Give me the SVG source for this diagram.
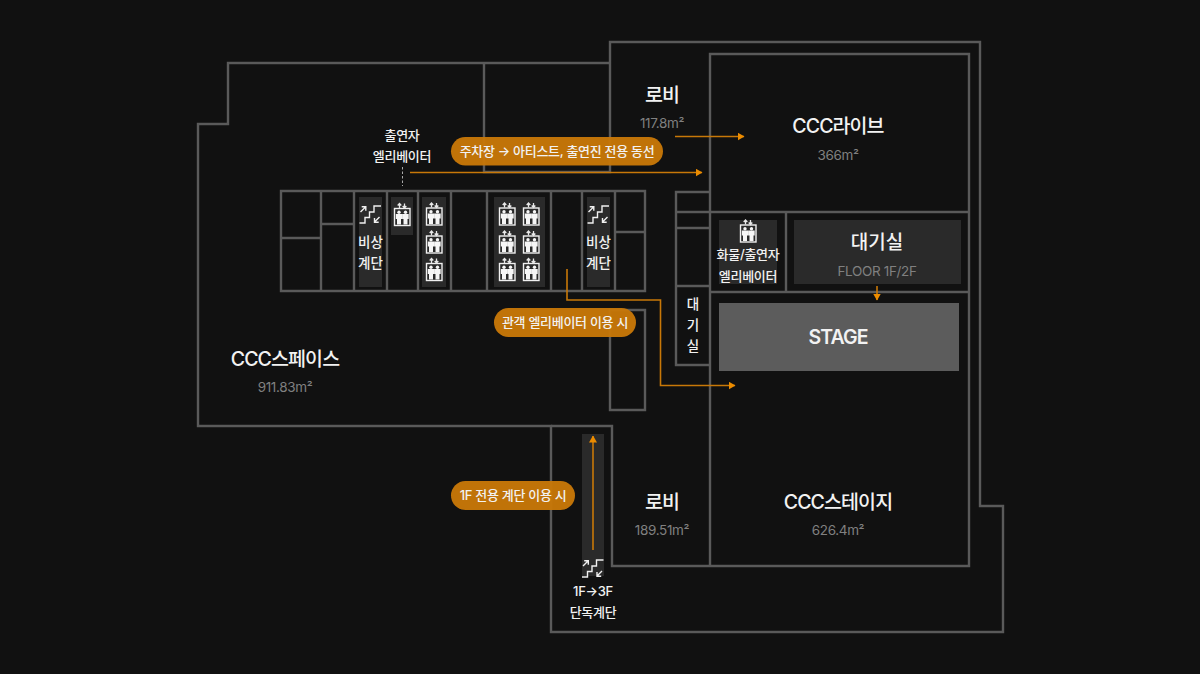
<svg xmlns="http://www.w3.org/2000/svg" xmlns:xlink="http://www.w3.org/1999/xlink" width="1200" height="674" viewBox="0 0 1200 674">
<style>
text{font-family:Inter,"Noto Sans CJK KR",sans-serif;text-anchor:middle;fill:#f2f2f2}
.w{fill:none;stroke:#5a5a5a;stroke-width:2.4}
.p{fill:#2a2a2a}
.h1{font-size:19.500px;font-weight:500;letter-spacing:-.9px}
.h2{font-size:13.5px;fill:#808080;letter-spacing:-.35px}
.m{font-size:13.5px;font-weight:500}
.l{font-size:13px;font-weight:500;letter-spacing:-.3px}
.pl{font-size:13px;font-weight:500;letter-spacing:-.3px}
.pill{fill:#c87808;fill-opacity:.96}
.o{fill:none;stroke:#c87808;stroke-width:1.6}
.ic{fill:none;stroke:#f0f0f0;stroke-width:1.400}
.icf{fill:#f6f6f6}
</style>
<defs>
<marker id="a" markerUnits="userSpaceOnUse" markerWidth="7" markerHeight="8" refX="6.500" refY="4" orient="auto"><path d="M0 0L7 4L0 8Z" fill="#ec8c00"/></marker>
<g id="el">
<rect class="ic" x="-7.500" y="-8.500" width="15.500" height="17"/>
<g class="icf"><circle cx="-3" cy="-4.800" r="1.700"/><circle cx="3.500" cy="-4.800" r="1.700"/><path d="M-6.200 -3H.2V2H-1V7.500H-5V2H-6.200ZM.3 -3H6.700V2H5.500V7.500H1.500V2H.3Z"/></g>
<path d="M-2.500 -9V-13M-4.300 -11.500L-2.500 -13.500L-.7 -11.500M2.500 -13.500V-9.500M.7 -11L2.500 -9L4.300 -11" stroke="#e8e8e8" stroke-width="1.300" fill="none"/>
</g>
<g id="st">
<path class="ic" d="M-11 10H-5.500V4.500H-1V-1H3.500V-7H10.500" stroke-width="1.500"/>
<path d="M-10 -1L-5 -6M-8.800 -6.300H-4.700V-2.300M4 9L9 4M4 5V9.300H8.200" stroke="#f0f0f0" stroke-width="1.400" fill="none"/>
</g>
</defs>
<rect width="1200" height="674" fill="#111"/>
<g id="walls" class="w">
<path d="M610 63H228V124H198V426H551V632H1003V506H980V42H610V172H484V63"/>
<path d="M551 426H612V566H969V54H710V566"/>
<path d="M281 191H645V291H281ZM321 191V291M354 191V291M387 191V291M418 191V291M451 191V291M487 191V291M551 191V291M582 191V291M615 191V291M281 238H321M321 224H354M615 232H645"/>
<path d="M710 192H676V365H710M676 212H969M676 228H710M676 286H710M710 292H969M786 212V292"/>
<path d="M610 310H645V410H610Z"/>
</g>
<g id="panels">
<rect class="p" x="359" y="197" width="23" height="90"/>
<rect class="p" x="391" y="197" width="22" height="38"/>
<rect class="p" x="422" y="197" width="24" height="90"/>
<rect class="p" x="494" y="197" width="51" height="90"/>
<rect class="p" x="587" y="197" width="23" height="90"/>
<rect class="p" x="582" y="434" width="22" height="142"/>
</g>
<g id="node-live"><text class="h1" x="838" y="133">CCC라이브</text><text class="h2" x="838" y="160">366m²</text></g>
<g id="node-lobby-top"><text class="h1" x="662" y="102">로비</text><text class="h2" x="662" y="128">117.8m²</text></g>
<g id="node-space"><text class="h1" x="285" y="366">CCC스페이스</text><text class="h2" x="285" y="392">911.83m²</text></g>
<g id="node-stage-hall"><text class="h1" x="838" y="509">CCC스테이지</text><text class="h2" x="838" y="535">626.4m²</text></g>
<g id="node-lobby-bottom"><text class="h1" x="662" y="509">로비</text><text class="h2" x="662" y="535">189.51m²</text></g>
<g id="node-waiting"><rect class="p" x="794" y="220" width="167" height="64"/><text class="h1" x="877" y="249" style="font-size:19px;letter-spacing:0">대기실</text><text class="h2" x="877" y="276">FLOOR 1F/2F</text></g>
<g id="node-stage"><rect x="719" y="303" width="240" height="68" fill="#5c5c5c"/><text class="h1" x="838" y="344" style="font-weight:600">STAGE</text></g>
<g id="node-cargo-elevator"><rect class="p" x="719" y="220" width="58" height="64"/><use xlink:href="#el" href="#el" x="748" y="233.500"/><text class="l" x="748" y="259">화물/출연자</text><text class="l" x="748" y="281">엘리베이터</text></g>
<g id="node-waiting-small"><text class="m" x="693" y="309">대</text><text class="m" x="693" y="330">기</text><text class="m" x="693" y="351">실</text></g>
<g id="node-stair-left"><use xlink:href="#st" href="#st" x="370.500" y="213"/><text class="m" x="370.500" y="247">비상</text><text class="m" x="370.500" y="268">계단</text></g>
<g id="node-stair-right"><use xlink:href="#st" href="#st" x="598.500" y="213"/><text class="m" x="598.500" y="247">비상</text><text class="m" x="598.500" y="268">계단</text></g>
<g id="node-artist-elevator"><use xlink:href="#el" href="#el" x="402" y="217"/><text class="l" x="402" y="140">출연자</text><text class="l" x="402" y="161">엘리베이터</text></g>
<g id="node-elevators-a"><use xlink:href="#el" href="#el" x="434" y="216.500"/><use xlink:href="#el" href="#el" x="434" y="244.500"/><use xlink:href="#el" href="#el" x="434" y="272"/></g>
<g id="node-elevators-b"><use xlink:href="#el" href="#el" x="507" y="216.500"/><use xlink:href="#el" href="#el" x="531" y="216.500"/><use xlink:href="#el" href="#el" x="507" y="244.500"/><use xlink:href="#el" href="#el" x="531" y="244.500"/><use xlink:href="#el" href="#el" x="507" y="272"/><use xlink:href="#el" href="#el" x="531" y="272"/></g>
<g id="node-stair-1f"><use xlink:href="#st" href="#st" x="593" y="567"/><text class="l" x="593" y="596">1F→3F</text><text class="l" x="593" y="617">단독계단</text></g>
<g id="connectors">
<path d="M402.500 167V186" stroke="#aaa" stroke-width="1" stroke-dasharray="2.500 2" fill="none"/>
<path class="o" d="M410 172.500H702" marker-end="url(#a)"/>
<path class="o" d="M675 136.500H744" marker-end="url(#a)"/>
<path class="o" d="M877 286V300" marker-end="url(#a)"/>
<path class="o" d="M567 269V300H660.500V385.500H735" marker-end="url(#a)"/>
<path class="o" d="M593 550V436" marker-end="url(#a)"/>
</g>
<g id="labels">
<rect class="pill" x="451" y="137" width="212" height="28.500" rx="14.250"/><text class="pl" x="557" y="156">주차장 → 아티스트, 출연진 전용 동선</text>
<rect class="pill" x="494" y="308" width="142" height="29" rx="14.500"/><text class="pl" x="565" y="327">관객 엘리베이터 이용 시</text>
<rect class="pill" x="451" y="481" width="124" height="29" rx="14.500"/><text class="pl" x="513" y="500">1F 전용 계단 이용 시</text>
</g>
</svg>
